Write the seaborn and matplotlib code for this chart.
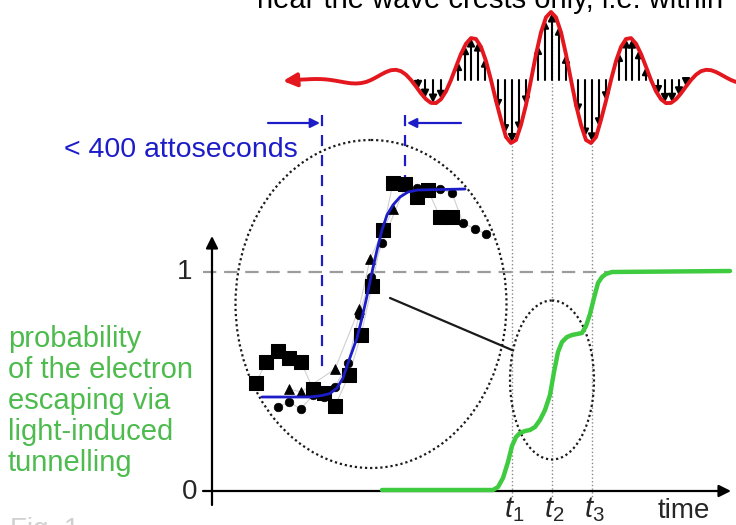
import numpy as np
import seaborn as sns
import matplotlib.pyplot as plt
from matplotlib.patches import Ellipse

# the whole sketch is laid out in picture pixels (x to the right, y downwards)

# light wave (red), one value every 5 px from x=291 to x=736
wave_x = np.arange(291, 737, 5)
wave_y = [80.0, 79.8, 79.6, 79.4, 79.1, 79.0, 79.1, 79.4, 80.0, 80.8, 81.7, 82.6, 83.3,
          83.5, 83.1, 82.0, 80.0, 77.4, 74.6, 72.0, 70.2, 69.8, 71.2, 74.7, 80.0, 86.5,
          93.4, 99.2, 102.9, 103.1, 99.2, 91.3, 80.0, 66.8, 53.9, 43.7, 38.1, 39.0, 46.9,
          61.1, 80.0, 100.7, 119.8, 137.0, 143.0, 140.0, 124.9, 104.9, 80.0, 54.4, 32.3,
          17.3, 12.0,
          17.3, 32.3, 54.4, 80.0, 104.9, 124.9, 140.0, 143.0, 137.0, 119.8, 100.7, 80.0,
          61.1, 46.9, 39.0, 38.1, 43.7, 53.9, 66.8, 80.0, 91.3, 99.2, 103.1, 102.9, 99.2,
          93.4, 86.5, 80.0, 74.7, 71.2, 69.8, 70.2, 72.0, 74.6, 77.4, 80.0, 82.0]
wave_zero = 80

# field arrows drawn under the crests
field_x = [418, 425, 433, 441,
           458, 465, 471, 478, 485,
           498, 505, 512, 519, 526,
           538, 545, 552, 559, 566,
           578, 585, 592, 599, 606,
           619, 626, 632, 639, 646,
           658, 665, 672, 679, 686]

# probability of escape (green)
green_x = [382, 493, 498, 503, 508, 512, 516, 520, 525, 530, 535, 540, 545, 550, 554,
           558, 562, 567, 572, 577, 582, 586, 590, 594, 598, 602, 606, 612, 730]
green_y = [490, 490, 487, 478, 462, 446, 437, 433, 431, 430, 427, 420, 410, 395, 372,
           352, 342, 337, 335, 334, 333, 326, 314, 298, 283, 277, 274, 272, 271]

# measured points in the big circle
sq_x = [256, 266, 278, 289, 301, 313, 324, 335, 349, 361, 372, 383, 393, 405, 417, 428, 440, 452]
sq_y = [383, 362, 351, 358, 362, 389, 393, 406, 375, 335, 286, 230, 183, 184, 197, 190, 217, 217]
ci_x = [278, 289, 301, 313, 324, 335, 348, 359, 371, 382, 405, 417, 440, 452, 463, 475, 486]
ci_y = [407, 402, 409, 395, 397, 387, 363, 315, 277, 243, 187, 188, 189, 193, 223, 229, 234]
tri_x = [289, 301, 335, 359, 370, 393]
tri_y = [389, 392, 369, 309, 259, 209]

# fitted step (blue)
fit_x = [262, 310, 322, 330, 337, 343, 347, 352, 357, 362, 367, 372, 377, 382, 387, 393,
         400, 408, 418, 465]
fit_y = [397, 397, 395.5, 393.5, 388, 378, 366, 352, 338, 318, 296, 272, 250, 230, 215,
         205, 197, 192, 190, 189]

t_pos = [512, 552, 592]
t_labels = ['$t_1$', '$t_2$', '$t_3$']
axis_y0 = 491
level_one = 272

green_text = ['probability', 'of the electron', 'escaping via', 'light-induced', 'tunnelling']

sns.set_style('white')
plt.rcParams['font.family'] = ['Liberation Sans', 'DejaVu Sans']
plt.rcParams['mathtext.fontset'] = 'custom'
plt.rcParams['mathtext.it'] = 'Liberation Sans:italic'
plt.rcParams['mathtext.rm'] = 'Liberation Sans'

RED = '#e3171d'
BLUE = '#1c1cc8'
GREEN = '#3fcb3f'
GREEN_TXT = '#4dbb4d'

fig = plt.figure(figsize=(7.36, 5.25), dpi=100)
ax = fig.add_axes([0, 0, 1, 1])
ax.set_xlim(0, 736)
ax.set_ylim(525, 0)
ax.axis('off')

# text cut by the top edge, as in the source
ax.text(257, 8, 'near the wave crests only, i.e. within', fontsize=21, color='black',
        va='baseline', ha='left')

# field arrows, then the wave over them
for x in field_x:
    tip = np.interp(x, wave_x, wave_y)
    ax.annotate('', xy=(x, tip), xytext=(x, wave_zero),
                arrowprops=dict(arrowstyle='-|>', color='black', lw=1.5,
                                mutation_scale=11, shrinkA=0, shrinkB=0), zorder=3)
sns.lineplot(x=wave_x, y=wave_y, ax=ax, color=RED, lw=2.8, estimator=None, zorder=4)
ax.annotate('', xy=(283, 81), xytext=(296, 80),
            arrowprops=dict(arrowstyle='-|>', color=RED, lw=2.8,
                            mutation_scale=20, shrinkA=0, shrinkB=0), zorder=4)

# dotted guides at t1, t2, t3
for x in t_pos:
    top = np.interp(x, wave_x, wave_y)
    ax.plot([x, x], [top, 498], ls=':', color='#8a8a8a', lw=1.0, zorder=1)

# blue duration markers
ax.plot([322, 322], [115, 375], ls=(0, (5, 4)), color=BLUE, lw=1.6)
ax.plot([405, 405], [115, 186], ls=(0, (5, 4)), color=BLUE, lw=1.6)
ax.annotate('', xy=(320, 123), xytext=(268, 123),
            arrowprops=dict(arrowstyle='-|>', color=BLUE, lw=1.6, mutation_scale=14,
                            shrinkA=0, shrinkB=0))
ax.annotate('', xy=(407, 123), xytext=(461, 123),
            arrowprops=dict(arrowstyle='-|>', color=BLUE, lw=1.6, mutation_scale=14,
                            shrinkA=0, shrinkB=0))
ax.text(298, 157, '< 400 attoseconds', fontsize=20.5, color=BLUE, ha='right', va='baseline')

# dotted circles and the connector
ax.add_patch(Ellipse((371, 304), 271, 328, fill=False, ls=(0, (1, 1.3)), lw=1.6, ec='#1a1a1a'))
ax.add_patch(Ellipse((552, 380), 84, 159, fill=False, ls=(0, (1, 1.3)), lw=1.6, ec='#1a1a1a'))
ax.plot([390, 512], [298, 350], color='#1a1a1a', lw=1.6)

# level 1 line
ax.hlines(level_one, 203, 612, colors='#9c9c9c', linestyles=(0, (6, 3.5)), lw=1.6, zorder=1)

# measured data and fit
for xs, ys in [(sq_x, sq_y), (ci_x, ci_y), (tri_x, tri_y)]:
    ax.plot(xs, ys, color='#d0d0d0', lw=0.8, zorder=2)
sns.scatterplot(x=sq_x, y=sq_y, marker='s', s=90, color='black', edgecolor='black', ax=ax, zorder=3)
sns.scatterplot(x=ci_x, y=ci_y, marker='o', s=38, color='black', edgecolor='black', ax=ax, zorder=3)
sns.scatterplot(x=tri_x, y=tri_y, marker='^', s=50, color='black', edgecolor='black', ax=ax, zorder=3)
sns.lineplot(x=fit_x, y=fit_y, ax=ax, color=BLUE, lw=2.0, estimator=None, zorder=4)

# axes with arrows
ax.annotate('', xy=(731, axis_y0), xytext=(203, axis_y0),
            arrowprops=dict(arrowstyle='-|>', color='black', lw=1.6, mutation_scale=18,
                            shrinkA=0, shrinkB=0), zorder=2)
ax.annotate('', xy=(212, 236), xytext=(212, 505),
            arrowprops=dict(arrowstyle='-|>', color='black', lw=1.6, mutation_scale=18,
                            shrinkA=0, shrinkB=0), zorder=2)
ax.text(185, level_one, '1', fontsize=20, ha='center', va='center')
ax.text(190, axis_y0 + 1, '0', fontsize=20, ha='center', va='center')
ax.text(684, 518, 'time', fontsize=20, ha='center', va='baseline')
for x, lab in zip(t_pos, t_labels):
    ax.text(x + 2, 517, lab, fontsize=21, ha='center', va='baseline')

# green probability curve
sns.lineplot(x=green_x, y=green_y, ax=ax, color=GREEN, lw=3.2, estimator=None, zorder=5)
for i, line in enumerate(green_text):
    ax.text(8, 347 + 31 * i, line, fontsize=21, color=GREEN_TXT, ha='left', va='baseline')

# caption remnant cut by the bottom edge, as in the source
ax.text(10, 537, 'Fig. 1', fontsize=20, color='#d0d0d0', ha='left', va='baseline')

fig.savefig('out.png', dpi=100)
